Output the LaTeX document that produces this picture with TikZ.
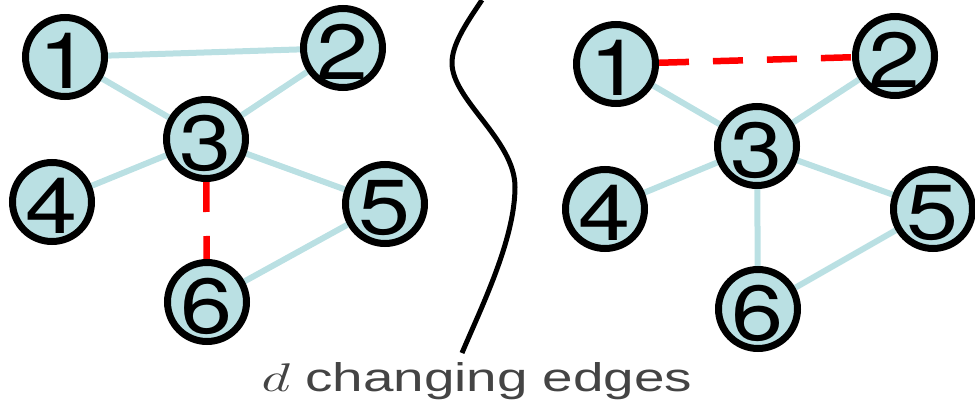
\documentclass[tikz,border=0pt]{standalone}
\usepackage{graphicx}
\usepackage{fontspec}
\setmainfont{Liberation Sans}
\newfontfamily\digitfont{TeX Gyre Heros}
\usetikzlibrary{backgrounds}

\definecolor{nodefill}{RGB}{186,224,227}
\definecolor{edgeblue}{RGB}{186,224,227}
\definecolor{capgray}{RGB}{68,68,68}

% slightly widened digits inside the vertices
\newcommand\wdig[1]{\scalebox{1.2}[1]{#1}}
% math italic d at caption size
\newcommand\bigd{{\fontsize{10}{12}\selectfont\scalebox{4}{$d$}}}

\tikzset{
  vtx/.style={circle, draw=black, line width=7pt, fill=nodefill,
              minimum size=79pt, inner sep=0pt},
  digit/.style={inner sep=0pt, font=\digitfont\fontsize{78}{80}\selectfont, yshift=-4pt},
  link/.style={draw=edgeblue, line width=6pt},
  changed/.style={draw=red, line width=6.5pt, dash pattern=on 30pt off 24pt},
  divider/.style={draw=black, line width=5pt}
}

\begin{document}
\begin{tikzpicture}[x=1pt, y=-1pt]
\useasboundingbox (0,0) rectangle (975,412);

% ---- graph before ----
\node[vtx] (a1) at (65,57)   {};
\node[vtx] (a2) at (343,48)  {};
\node[vtx] (a3) at (206,139) {};
\node[vtx] (a4) at (52,202)  {};
\node[vtx] (a5) at (385,204) {};
\node[vtx] (a6) at (207,302) {};

% ---- graph after ----
\node[vtx] (b1) at (616,64)  {};
\node[vtx] (b2) at (895,56)  {};
\node[vtx] (b3) at (757,146) {};
\node[vtx] (b4) at (605,209) {};
\node[vtx] (b5) at (933,209) {};
\node[vtx] (b6) at (758,309) {};

% vertex labels
\foreach \g in {a,b}{
  \foreach \k in {1,...,6}{
    \node[digit] (t\g\k) at (\g\k) {\wdig{\k}};
  }
}

% edges behind the vertices
\begin{scope}[on background layer]
  \draw[link] (a1) -- (a2);
  \draw[link] (a1) -- (a3);
  \draw[link] (a2) -- (a3);
  \draw[link] (a3) -- (a4);
  \draw[link] (a3) -- (a5);
  \draw[link] (a5) -- (a6);
  \draw[changed] (a3) -- (a6);

  \draw[changed] (b1) -- (b2);
  \draw[link] (b1) -- (b3);
  \draw[link] (b2) -- (b3);
  \draw[link] (b3) -- (b4);
  \draw[link] (b3) -- (b5);
  \draw[link] (b3) -- (b6);
  \draw[link] (b5) -- (b6);
\end{scope}

% separating curve
\draw[divider] (482,0) .. controls (465,25) and (452,45) .. (452,63)
  .. controls (452,100) and (515,140) .. (515,187)
  .. controls (515,240) and (480,310) .. (462,353);

% caption
\node[anchor=base, inner sep=0pt, text=capgray, font=\fontsize{40}{44}\selectfont]
  (cap) at (477,391) {\scalebox{1.37}[1]{\bigd{} changing edges}};
\end{tikzpicture}
\end{document}
